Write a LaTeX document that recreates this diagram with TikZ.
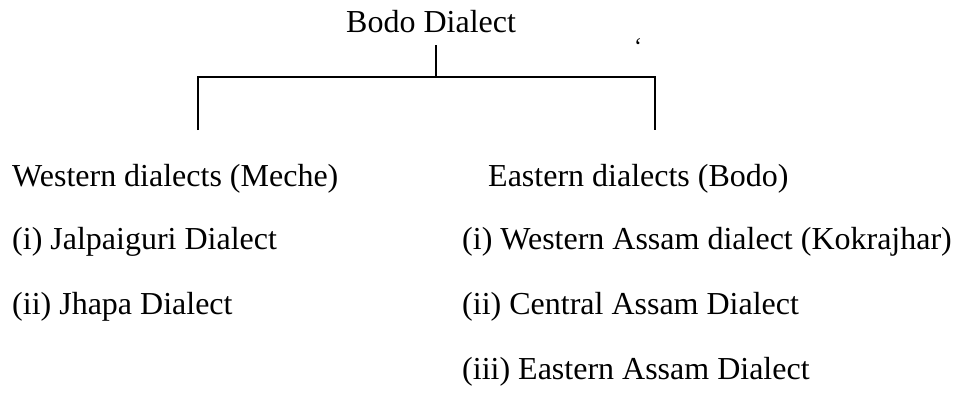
\documentclass[tikz,border=0pt]{standalone}
\usepackage{fontspec}
\setmainfont{Liberation Serif}
\usetikzlibrary{positioning}

\begin{document}
\begin{tikzpicture}[%
    x=1pt, y=-1pt,             % pixel-like grid, y runs downwards
    ]
% -------------------------------------------------
% Styles
\tikzset{
  base/.style={inner sep=0pt, font=\fontsize{32}{38}\selectfont},
  root/.style={base, anchor=base west},
  item/.style={base, anchor=base west},
  tickmark/.style={inner sep=0pt, font=\fontsize{24}{28}\selectfont},
  link/.style={draw, line width=1.4pt},
}
\useasboundingbox (0,0) rectangle (960,407);
% -------------------------------------------------
% Nodes
\node [root] (bodo) at (346,32) {Bodo Dialect};
\node [tickmark] (tick) at (638,47) {\symbol{"60}};

\node [item] (west) at (12,186) {Western dialects (Meche)};
\node [item] (east) at (488,186) {Eastern dialects (Bodo)};

\node [item] (jal) at (12,249) {(i) Jalpaiguri Dialect};
\node [item] (jha) at (12,314) {(ii) Jhapa Dialect};

\node [item] (kok) at (462,249) {(i) Western Assam dialect (Kokrajhar)};
\node [item] (cen) at (462,314) {(ii) Central Assam Dialect};
\node [item] (eas) at (462,379) {(iii) Eastern Assam Dialect};

% Tree connectors
\coordinate (stem) at (436,45);
\coordinate (fork) at (436,77);
\coordinate (wtop) at (198,77);
\coordinate (etop) at (655,77);
\coordinate (wleg) at (198,130);
\coordinate (eleg) at (655,130);

\draw[link] (stem) -- (fork);		%Bodo Dialect stem
\draw[link] (wleg) -- (wtop) -- (etop) -- (eleg);		%Western,Eastern
% -------------------------------------------------
\end{tikzpicture}
\end{document}
